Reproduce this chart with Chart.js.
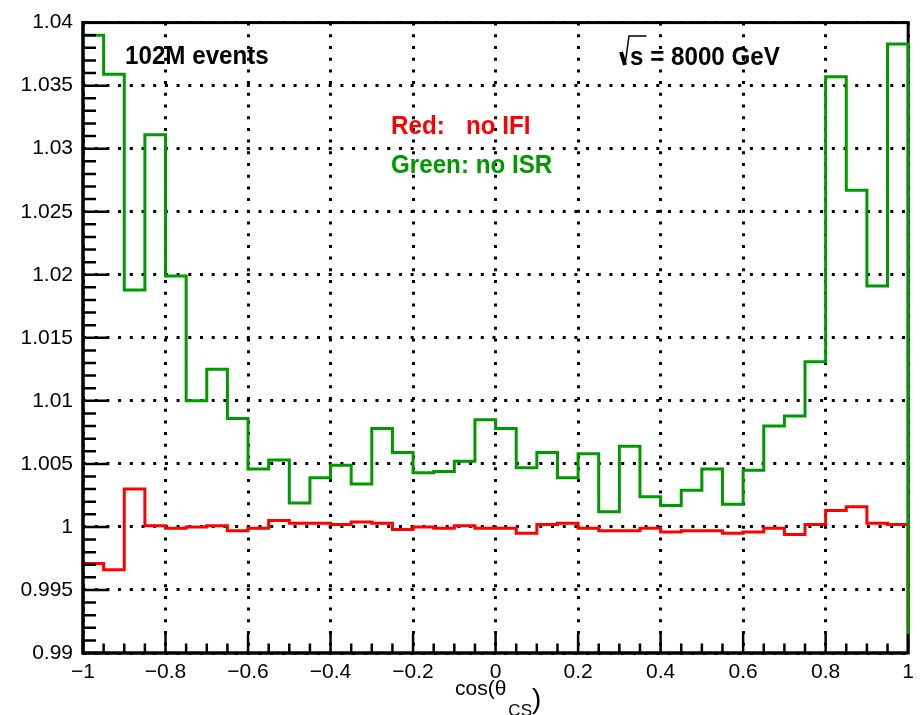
<!DOCTYPE html>
<html>
<head>
<meta charset="utf-8">
<script src="https://cdn.jsdelivr.net/npm/chart.js@4.4.1/dist/chart.umd.min.js"></script>
<style>
  html, body { margin: 0; padding: 0; background: #fff; }
</style>
</head>
<body>
<canvas id="ratioChart" width="921" height="715"></canvas>
<script>
// cos(theta_CS) binning: 40 bins of 0.05
const binEdges = [
  -1, -0.95, -0.9, -0.85, -0.8, -0.75, -0.7, -0.65, -0.6, -0.55,
  -0.5, -0.45, -0.4, -0.35, -0.3, -0.25, -0.2, -0.15, -0.1, -0.05,
  0, 0.05, 0.1, 0.15, 0.2, 0.25, 0.3, 0.35, 0.4, 0.45,
  0.5, 0.55, 0.6, 0.65, 0.7, 0.75, 0.8, 0.85, 0.9, 0.95, 1
];

// ratio to full simulation, ISR switched off
const noIsrRatio = [
  1.0390, 1.0359, 1.0188, 1.0311, 1.0199, 1.0100, 1.0125, 1.0086, 1.0046, 1.0053,
  1.0019, 1.0039, 1.0049, 1.0034, 1.0078, 1.0059, 1.0043, 1.0044, 1.0052, 1.0085,
  1.0078, 1.0047, 1.0059, 1.0039, 1.0058, 1.0012, 1.0064, 1.0024, 1.0017, 1.0029,
  1.0046, 1.0018, 1.0045, 1.0080, 1.0088, 1.0131, 1.0357, 1.0267, 1.0191, 1.0383
];

// ratio to full simulation, initial-final interference switched off
const noIfiRatio = [
  0.9971, 0.9966, 1.0030, 1.0001, 0.9999, 1.0000, 1.0001, 0.9997, 0.9999, 1.0005,
  1.0003, 1.0003, 1.0002, 1.0004, 1.0003, 0.9998, 1.0000, 0.9999, 1.0001, 0.9999,
  0.9999, 0.9995, 1.0002, 1.0003, 0.9999, 0.9997, 0.9997, 0.9999, 0.9996, 0.9997,
  0.9997, 0.9995, 0.9996, 0.9999, 0.9994, 1.0002, 1.0013, 1.0016, 1.0003, 1.0002
];

const xTickLabels = ['\u22121', '\u22120.8', '\u22120.6', '\u22120.4', '\u22120.2', '0', '0.2', '0.4', '0.6', '0.8', '1'];
const yTickLabels = ['0.99', '0.995', '1', '1.005', '1.01', '1.015', '1.02', '1.025', '1.03', '1.035', '1.04'];

const Y_MIN = 0.99;
const Y_MAX = 1.04;

const FONT = '"Liberation Sans", Arial, Helvetica, sans-serif';

// histogram outline: one point per lower bin edge, last edge closes down to the floor
function histPoints(values) {
  return binEdges.map((x, i) => ({ x, y: i < values.length ? values[i] : Y_MIN }));
}

// squeezed bold label, like the TLatex text on the pad
function padText(ctx, text, x, baseline, color) {
  ctx.save();
  ctx.translate(x, baseline);
  ctx.scale(0.93, 1);
  ctx.font = 'bold 26px ' + FONT;
  ctx.fillStyle = color;
  ctx.textBaseline = 'alphabetic';
  ctx.fillText(text, 0, 0);
  const w = ctx.measureText(text).width * 0.93;
  ctx.restore();
  return w;
}

const rootFrame = {
  id: 'rootFrame',
  beforeDatasetsDraw(chart) {
    const { ctx, chartArea: a } = chart;
    ctx.save();
    ctx.strokeStyle = '#000';
    ctx.lineWidth = 3;
    ctx.strokeRect(a.left, a.top, a.right - a.left, a.bottom - a.top);
    ctx.restore();
  },
  afterDatasetsDraw(chart) {
    const { ctx, chartArea: a, scales: { x, y } } = chart;
    ctx.save();
    ctx.strokeStyle = '#000';
    ctx.lineCap = 'butt';

    // tick marks point into the pad
    ctx.lineWidth = 2.5;
    ctx.beginPath();
    for (let k = 0; k <= 40; k++) {
      const px = x.getPixelForValue(x.min + k * 0.05);
      const len = k % 4 === 0 ? 19 : 9.5;
      ctx.moveTo(px, a.bottom);
      ctx.lineTo(px, a.bottom - len);
    }
    for (let k = 0; k <= 50; k++) {
      const py = y.getPixelForValue(y.min + k * 0.001);
      const len = k % 5 === 0 ? 26 : 13;
      ctx.moveTo(a.left, py);
      ctx.lineTo(a.left + len, py);
    }
    ctx.stroke();

    // axis lines
    ctx.lineWidth = 3;
    ctx.beginPath();
    ctx.moveTo(a.left, a.top - 1.5);
    ctx.lineTo(a.left, a.bottom + 1.5);
    ctx.moveTo(a.left - 1.5, a.bottom);
    ctx.lineTo(a.right - 1.5, a.bottom);
    ctx.stroke();
    ctx.restore();
  },
  afterDraw(chart) {
    const { ctx } = chart;

    padText(ctx, '102M events', 125, 64, '#000');

    // sqrt(s) with a hand-drawn radical
    const x0 = 620, base = 65;
    ctx.save();
    ctx.strokeStyle = '#000';
    ctx.lineWidth = 4;
    ctx.beginPath();
    ctx.moveTo(x0 + 1, base - 13);
    ctx.lineTo(x0 + 5, base);
    ctx.stroke();
    ctx.restore();
    const sx = x0 + 10;
    const sw = padText(ctx, 's', sx, base, '#000');
    ctx.save();
    ctx.strokeStyle = '#000';
    ctx.lineWidth = 1.5;
    ctx.beginPath();
    ctx.moveTo(x0 + 5, base);
    ctx.lineTo(x0 + 9, base - 29);
    ctx.lineTo(sx + sw + 3, base - 29);
    ctx.stroke();
    ctx.restore();
    padText(ctx, ' = 8000 GeV', sx + sw, base, '#000');

    padText(ctx, 'Red:', 391, 134, '#ff0000');
    padText(ctx, 'no IFI', 466, 134, '#ff0000');
    padText(ctx, 'Green: no ISR', 391, 173, '#009900');

    // x axis title cos(theta_CS)
    ctx.save();
    ctx.fillStyle = '#000';
    ctx.textBaseline = 'alphabetic';
    ctx.font = '21px ' + FONT;
    ctx.fillText('cos(\u03b8', 455, 695);
    const w1 = ctx.measureText('cos(\u03b8').width;
    ctx.font = '17px ' + FONT;
    ctx.fillText('CS', 455 + w1 + 2, 716);
    const w2 = ctx.measureText('CS').width;
    ctx.font = '28px ' + FONT;
    ctx.fillText(')', 455 + w1 + 2 + w2, 708);
    ctx.restore();
  }
};

const ctx = document.getElementById('ratioChart').getContext('2d');

new Chart(ctx, {
  type: 'line',
  data: {
    datasets: [
      {
        label: 'Green: no ISR',
        data: histPoints(noIsrRatio),
        borderColor: '#009900',
        borderWidth: 3,
        stepped: 'before',
        pointRadius: 0,
        fill: false,
        clip: false,
        borderJoinStyle: 'miter'
      },
      {
        label: 'Red: no IFI',
        data: histPoints(noIfiRatio),
        borderColor: '#ff0000',
        borderWidth: 3,
        stepped: 'before',
        pointRadius: 0,
        fill: false,
        clip: false,
        borderJoinStyle: 'miter'
      }
    ]
  },
  options: {
    responsive: false,
    animation: false,
    events: [],
    layout: { padding: { left: 0, right: 10, top: 16, bottom: 0 } },
    plugins: {
      legend: { display: false },
      tooltip: { enabled: false }
    },
    scales: {
      x: {
        type: 'linear',
        min: -1,
        max: 1,
        afterFit: s => { s.height = 62; },
        ticks: {
          stepSize: 0.2,
          autoSkip: false,
          maxRotation: 0,
          padding: 7,
          color: '#000',
          font: { family: FONT, size: 21 },
          callback: (v, i) => xTickLabels[i]
        },
        grid: { color: '#000', lineWidth: 3, drawTicks: false },
        border: { display: false, dash: [3, 8.7] }
      },
      y: {
        type: 'linear',
        min: Y_MIN,
        max: Y_MAX,
        afterFit: s => { s.width = 83; },
        ticks: {
          stepSize: 0.005,
          autoSkip: false,
          padding: 10,
          color: '#000',
          font: { family: FONT, size: 21 },
          callback: (v, i) => yTickLabels[i]
        },
        grid: { color: '#000', lineWidth: 3, drawTicks: false },
        border: { display: false, dash: [3, 8.7] }
      }
    }
  },
  plugins: [rootFrame]
});
</script>
</body>
</html>
